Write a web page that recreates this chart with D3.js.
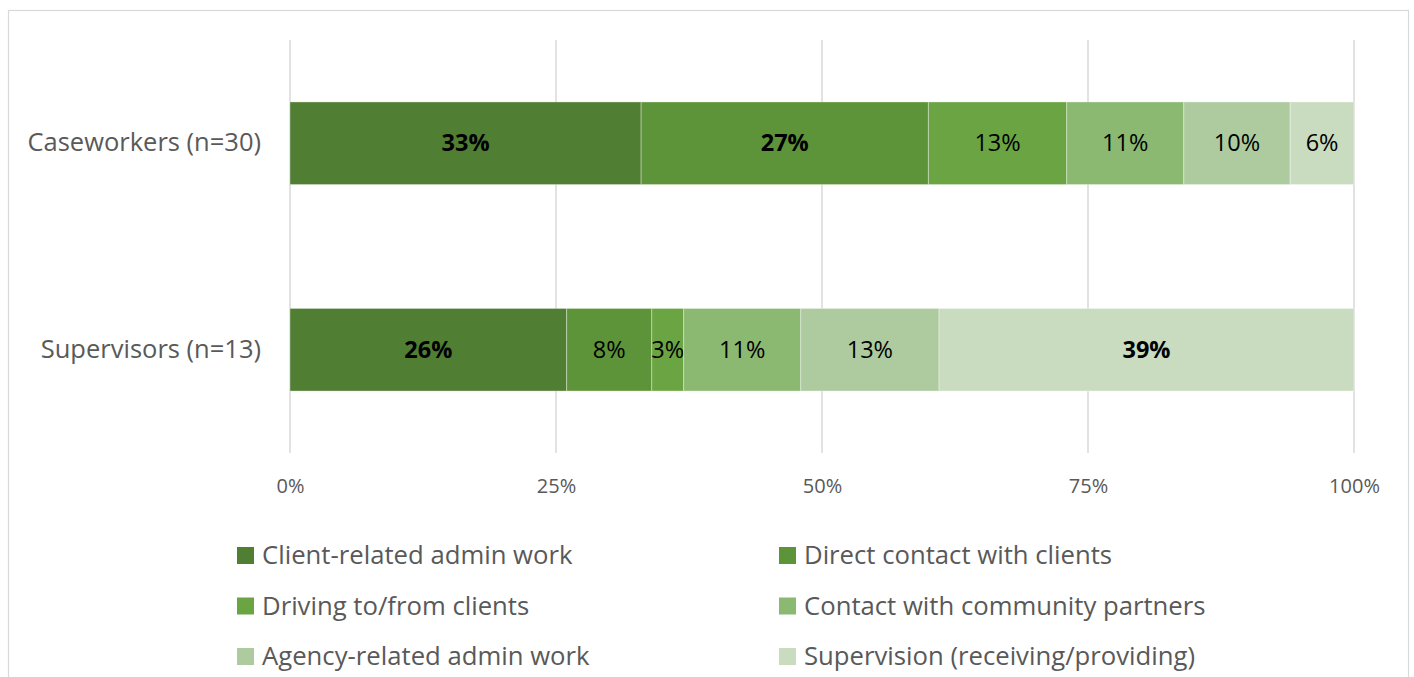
<!DOCTYPE html>
<html>
<head>
<meta charset="utf-8">
<script src="https://cdn.jsdelivr.net/npm/d3@7"></script>
<style>
  html, body { margin: 0; padding: 0; background: #fff; }
  svg { display: block; font-family: "Open Sans", Lato, "Liberation Sans", sans-serif; }
</style>
</head>
<body>
<svg id="chart" width="1414" height="677"></svg>
<script>
// Share of working time by activity, per respondent group (percent)
const groups = ["Caseworkers (n=30)", "Supervisors (n=13)"];
const activities = [
  "Client-related admin work",
  "Direct contact with clients",
  "Driving to/from clients",
  "Contact with community partners",
  "Agency-related admin work",
  "Supervision (receiving/providing)"
];
const caseworkers = [33, 27, 13, 11, 10, 6];
const supervisors = [26, 8, 3, 11, 13, 39];
const tickValues = [0, 25, 50, 75, 100];
const tickLabels = ["0%", "25%", "50%", "75%", "100%"];
const colors = ["#507e32", "#5e9439", "#6aa443", "#8bb971", "#aecb9f", "#c9dcc0"];
// largest segments get bold labels
const boldCutoff = 20;

const seriesByGroup = [caseworkers, supervisors];
const FONT = "'Open Sans', Lato, 'Liberation Sans', sans-serif";

const svg = d3.select("#chart");

// outer chart frame
svg.append("rect")
  .attr("x", 8.5).attr("y", 10.5)
  .attr("width", 1400).attr("height", 700)
  .attr("fill", "#fff").attr("stroke", "#d9d9d9").attr("stroke-width", 1.2);

const plot = { left: 290, right: 1354, top: 40, bottom: 453 };

const x = d3.scaleLinear().domain([0, 100]).range([plot.left, plot.right]);
const y = d3.scaleBand().domain(groups).range([plot.top, plot.bottom])
  .paddingInner(0.6).paddingOuter(0.3);
const color = d3.scaleOrdinal().domain(activities).range(colors);

// vertical gridlines
svg.append("g").selectAll("line")
  .data(tickValues).join("line")
  .attr("x1", d => x(d)).attr("x2", d => x(d))
  .attr("y1", plot.top).attr("y2", plot.bottom)
  .attr("stroke", "#d9d9d9").attr("stroke-width", 1.5);

// x axis labels
const xAxis = d3.axisBottom(x).tickValues(tickValues)
  .tickFormat((d, i) => tickLabels[i]).tickSize(0).tickPadding(0);
const gx = svg.append("g")
  .attr("transform", `translate(0,${plot.bottom + 33})`)
  .call(xAxis);
gx.select(".domain").remove();
gx.selectAll("text")
  .attr("dy", "0.35em")
  .attr("fill", "#595959")
  .style("font-family", FONT)
  .style("font-size", "20px");

// category labels
const yAxis = d3.axisLeft(y).tickSize(0).tickPadding(29);
const gy = svg.append("g")
  .attr("transform", `translate(${plot.left},0)`)
  .call(yAxis);
gy.select(".domain").remove();
gy.selectAll("text")
  .attr("fill", "#595959")
  .style("font-family", FONT)
  .style("font-size", "25.5px");

// stacked segments
const rows = groups.map((g, gi) => {
  const obj = { group: g };
  activities.forEach((a, ai) => obj[a] = seriesByGroup[gi][ai]);
  return obj;
});
const stacked = d3.stack().keys(activities)(rows);

const layers = svg.append("g").selectAll("g")
  .data(stacked).join("g")
  .attr("fill", d => color(d.key));

layers.selectAll("rect")
  .data(d => d)
  .join("rect")
  .attr("x", d => x(d[0]))
  .attr("width", d => x(d[1]) - x(d[0]))
  .attr("y", d => y(d.data.group))
  .attr("height", y.bandwidth())
  .attr("stroke", "#ffffff").attr("stroke-opacity", 0.35).attr("stroke-width", 1);

// value labels
layers.selectAll("text")
  .data(d => d)
  .join("text")
  .attr("x", d => (x(d[0]) + x(d[1])) / 2)
  .attr("y", d => y(d.data.group) + y.bandwidth() / 2)
  .attr("dy", "0.35em")
  .attr("text-anchor", "middle")
  .attr("fill", "#000")
  .style("font-size", "23.5px")
  .style("font-weight", d => (d[1] - d[0]) >= boldCutoff ? "bold" : "normal")
  .text(d => Math.round(d[1] - d[0]) + "%");

// legend in two columns
const legend = svg.append("g").selectAll("g")
  .data(activities).join("g")
  .attr("transform", (d, i) => `translate(${i % 2 === 0 ? 237 : 779},${555 + Math.floor(i / 2) * 50.5})`);
legend.append("rect")
  .attr("x", 0).attr("y", -8).attr("width", 17).attr("height", 17)
  .attr("fill", d => color(d));
legend.append("text")
  .attr("x", 25).attr("y", 0).attr("dy", "0.35em")
  .attr("fill", "#595959")
  .style("font-size", "25.7px")
  .text(d => d);
</script>
</body>
</html>
